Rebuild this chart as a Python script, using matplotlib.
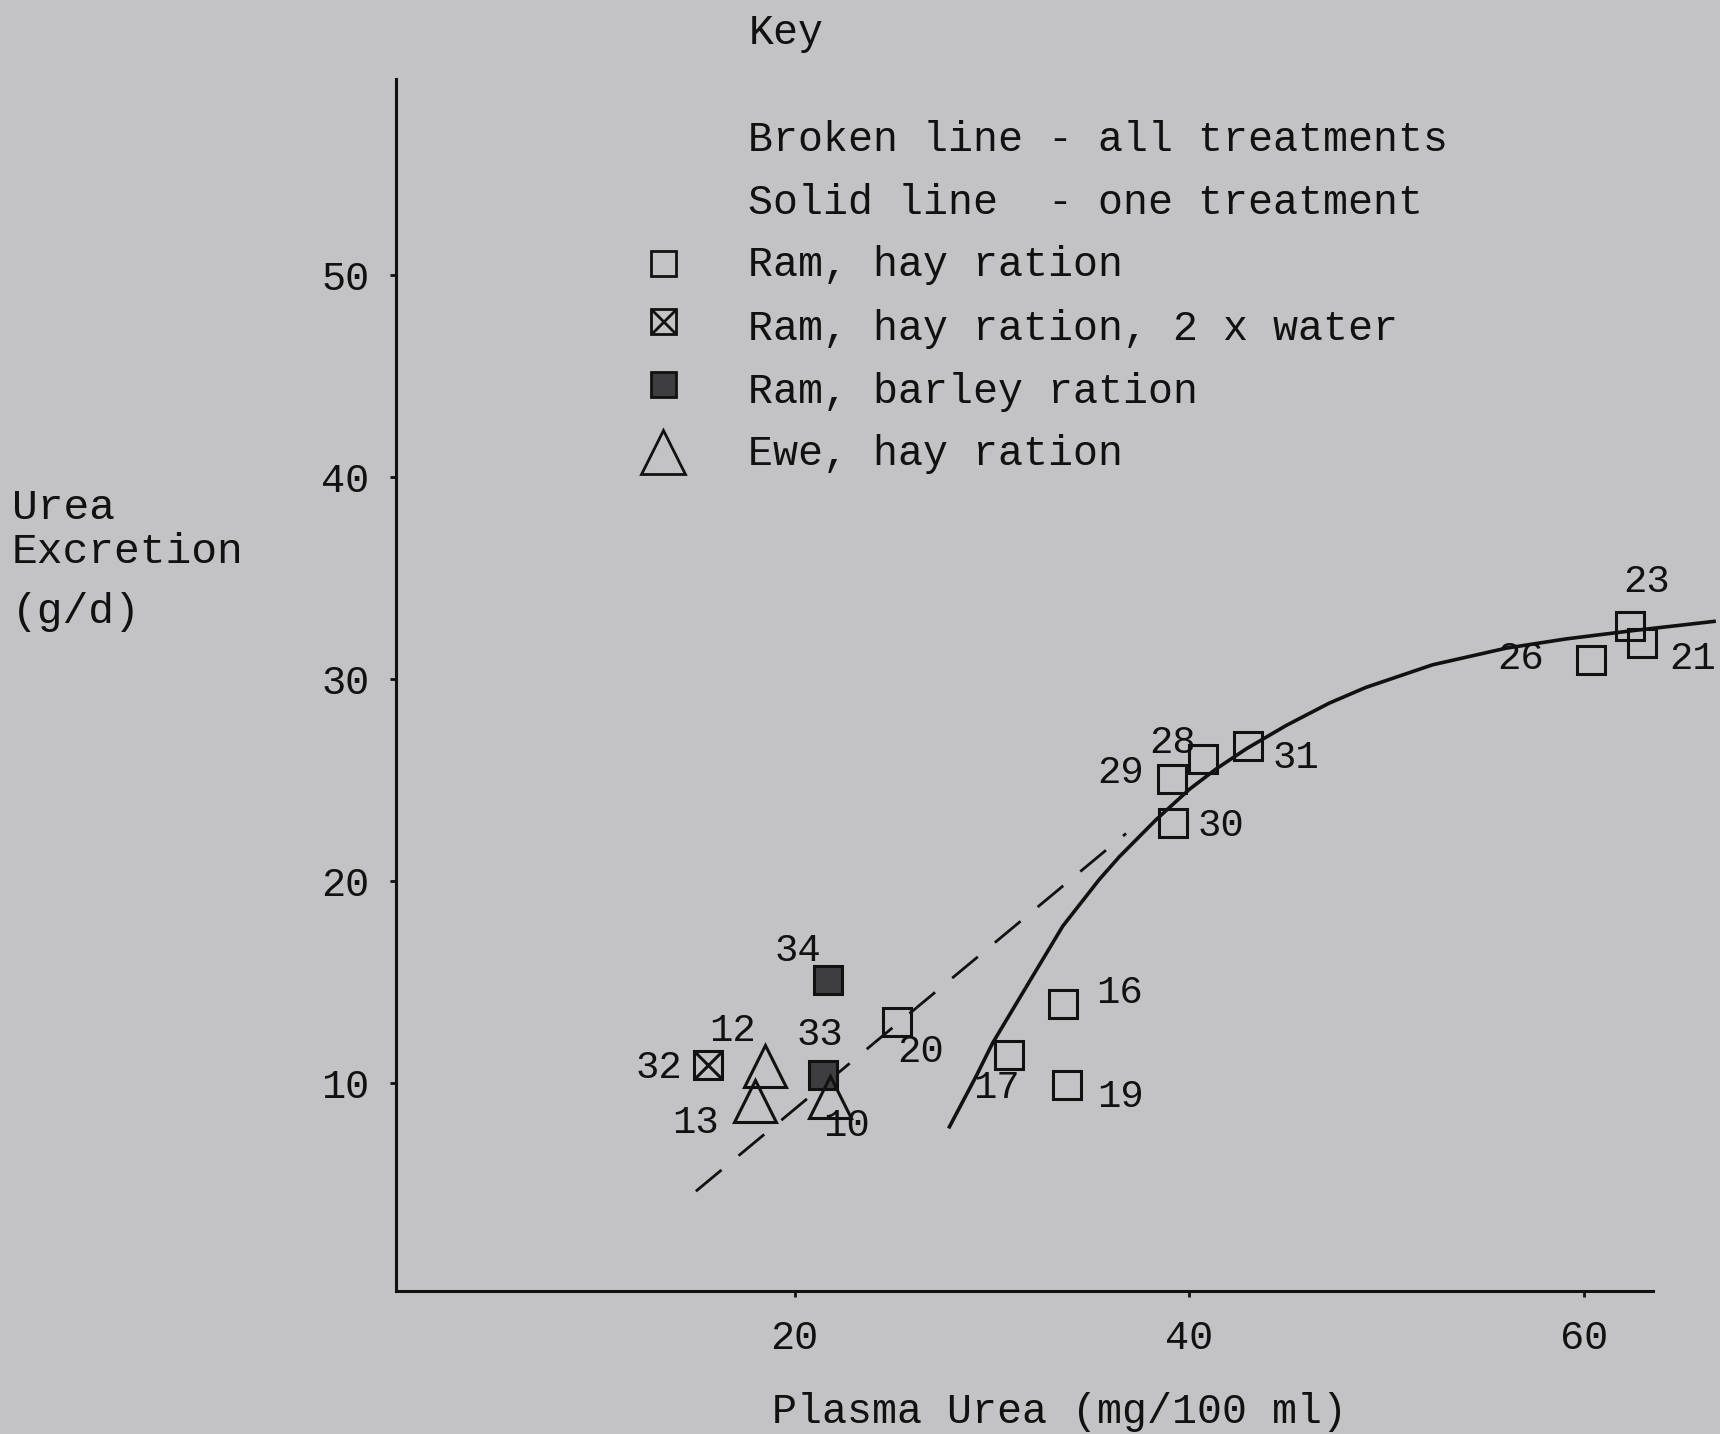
import matplotlib
matplotlib.use("Agg")
import matplotlib.pyplot as plt

# Ram, hay ration (open squares)
hay_ids = ["20", "17", "16", "19", "29", "28", "31", "30", "26", "23", "21"]
hay_x = [25.2, 30.85, 33.6, 33.8, 39.14, 40.7, 43.0, 39.2, 60.37, 62.36, 62.96]
hay_y = [13.0, 11.4, 13.9, 9.9, 25.07, 26.06, 26.7, 22.85, 30.93, 32.61, 31.79]

# Ram, hay ration, 2 x water (crossed square)
water_ids = ["32"]
water_x = [15.6]
water_y = [10.9]

# Ram, barley ration (filled squares)
barley_ids = ["34", "33"]
barley_x = [21.7, 21.45]
barley_y = [15.1, 10.4]

# Ewe, hay ration (triangles)
ewe_ids = ["12", "13", "10"]
ewe_x = [18.5, 18.0, 21.8]
ewe_y = [10.85, 9.1, 9.3]

# regression over all treatments (broken line)
all_x = [15.0, 36.8]
all_y = [4.64, 22.35]

# fitted curve, one treatment (solid line)
one_x = [27.85, 29.2, 30.04, 32.07, 33.59, 35.44, 36.46, 38.33, 40.0, 41.37,
         42.89, 44.92, 47.09, 48.95, 52.33, 56.04, 59.08, 62.46, 66.6]
one_y = [7.83, 10.33, 11.98, 15.29, 17.76, 20.07, 21.2, 23.04, 24.53, 25.55,
         26.54, 27.7, 28.8, 29.58, 30.7, 31.52, 31.98, 32.39, 32.85]

x_ticks = [20, 40, 60]
y_ticks = [10, 20, 30, 40, 50]

key_lines = [
    "Broken line - all treatments",
    "Solid line  - one treatment",
    "Ram, hay ration",
    "Ram, hay ration, 2 x water",
    "Ram, barley ration",
    "Ewe, hay ration",
]

# label offsets in points, per point id
label_offsets = {
    "20": (17, -21), "17": (-9, -24), "16": (41, 8), "19": (39, -9),
    "29": (-37, 4), "28": (-22, 11), "31": (34, -9), "30": (34, -2),
    "26": (-51, 1), "23": (12, 32), "21": (36, -12), "32": (-35, -2),
    "34": (-22, 21), "33": (-2, 29), "12": (-23, 25), "13": (-43, -16),
    "10": (12, -21),
}

BG = "#c3c3c5"
INK = "#111111"
FILL = "#3e3e40"
FONT = "Liberation Mono"

plt.rcParams["font.family"] = FONT

fig = plt.figure(figsize=(17.2, 14.34), dpi=100, facecolor=BG)
ax = fig.add_axes([0.2302, 0.0997, 0.7308, 0.8452])
ax.set_facecolor(BG)

ax.set_xlim(-0.2, 63.5)
ax.set_ylim(-0.3, 59.7)

for side in ["top", "right"]:
    ax.spines[side].set_visible(False)
for side in ["left", "bottom"]:
    ax.spines[side].set_linewidth(2.2)
    ax.spines[side].set_color(INK)

ax.set_xticks(x_ticks)
ax.set_yticks(y_ticks)
ax.tick_params(axis="both", direction="out", length=4, width=2, colors=INK,
               labelsize=29)
ax.tick_params(axis="x", pad=16)
ax.tick_params(axis="y", pad=15)

# lines
ax.plot(all_x, all_y, color=INK, lw=2, dashes=(12, 8), clip_on=False, zorder=2)
ax.plot(one_x, one_y, color=INK, lw=2.6, clip_on=False, zorder=2,
        solid_joinstyle="round")

# points
ms = 20
ax.plot(hay_x, hay_y, "s", ms=ms, mfc="none", mec=INK, mew=2.2, ls="none",
        clip_on=False, zorder=3)
ax.plot(water_x, water_y, "s", ms=ms, mfc="none", mec=INK, mew=2.2, ls="none",
        zorder=3)
ax.plot(water_x, water_y, "x", ms=ms, mec=INK, mew=2.2, ls="none", zorder=3)
ax.plot(barley_x, barley_y, "s", ms=ms, mfc=FILL, mec=INK, mew=2.2,
        ls="none", zorder=3)
ax.plot(ewe_x, ewe_y, "^", ms=30, mfc="none", mec=INK, mew=2.2, ls="none",
        zorder=3)

for ids, xs, ys in [(hay_ids, hay_x, hay_y), (water_ids, water_x, water_y),
                    (barley_ids, barley_x, barley_y), (ewe_ids, ewe_x, ewe_y)]:
    for pid, px, py in zip(ids, xs, ys):
        ax.annotate(pid, (px, py), xytext=label_offsets[pid],
                    textcoords="offset points", ha="center", va="center",
                    fontsize=28, color=INK, annotation_clip=False)

# axis titles
fig.text(1060 / 1720, 1 - 1412 / 1434, "Plasma Urea (mg/100 ml)", ha="center",
         va="center", fontsize=30, color=INK)
for txt, ypx in [("Urea", 508), ("Excretion", 552), ("(g/d)", 612)]:
    fig.text(12 / 1720, 1 - ypx / 1434, txt, ha="left", va="center",
             fontsize=31, color=INK)

# key
fig.text(749 / 1720, 1 - 33 / 1434, "Key", ha="left", va="center",
         fontsize=30, color=INK)
key_y = [140, 203, 265, 329, 392, 454]
for txt, ypx in zip(key_lines, key_y):
    fig.text(748 / 1720, 1 - ypx / 1434, txt, ha="left", va="center",
             fontsize=30, color=INK)

key_ax = fig.add_axes([0, 0, 1, 1], facecolor="none")
key_ax.set_xlim(0, 1720)
key_ax.set_ylim(1434, 0)
key_ax.axis("off")
key_ax.plot([663], [263], "s", ms=18, mfc="none", mec=INK, mew=2)
key_ax.plot([663], [321], "s", ms=18, mfc="none", mec=INK, mew=2)
key_ax.plot([663], [321], "x", ms=18, mec=INK, mew=2)
key_ax.plot([663], [384], "s", ms=18, mfc=FILL, mec=INK, mew=2)
key_ax.plot([663], [452], "^", ms=32, mfc="none", mec=INK, mew=2)

fig.savefig("out.png", dpi=100, facecolor=BG)
